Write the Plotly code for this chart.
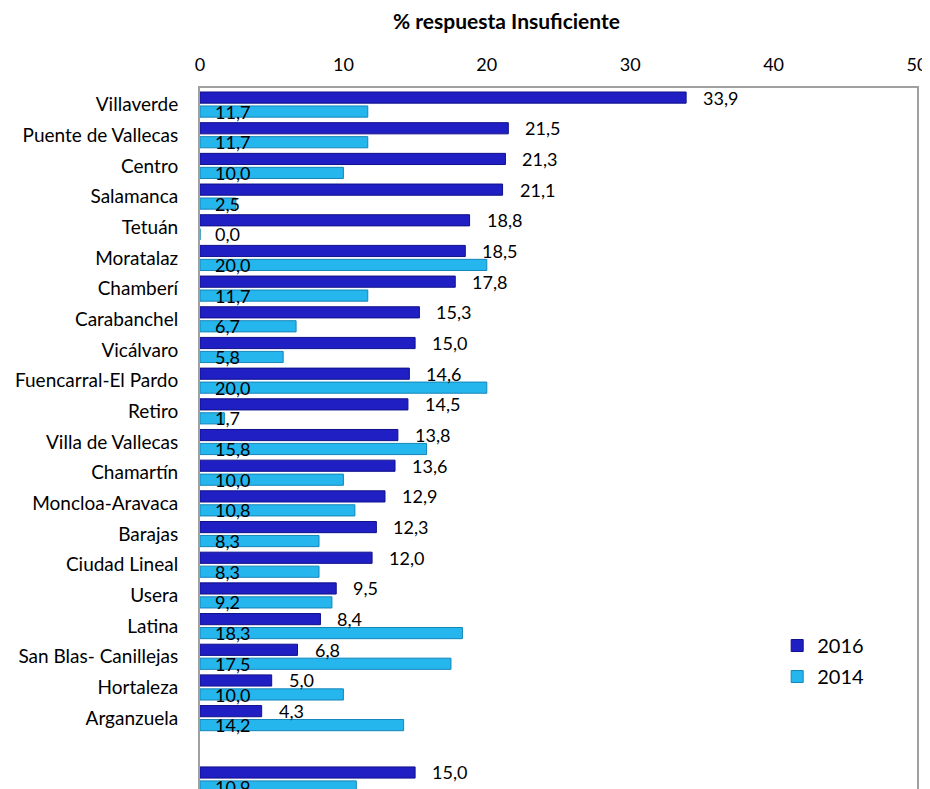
import plotly.graph_objects as go

categories = ["Villaverde", "Puente de Vallecas", "Centro", "Salamanca", "Tetuán",
              "Moratalaz", "Chamberí", "Carabanchel", "Vicálvaro", "Fuencarral-El Pardo",
              "Retiro", "Villa de Vallecas", "Chamartín", "Moncloa-Aravaca", "Barajas",
              "Ciudad Lineal", "Usera", "Latina", "San Blas- Canillejas", "Hortaleza",
              "Arganzuela", "Madrid"]
positions = list(range(21)) + [22]
v2016 = [33.9, 21.5, 21.3, 21.1, 18.8, 18.5, 17.8, 15.3, 15.0, 14.6, 14.5, 13.8,
         13.6, 12.9, 12.3, 12.0, 9.5, 8.4, 6.8, 5.0, 4.3, 15.0]
v2014 = [11.7, 11.7, 10.0, 2.5, 0.0, 20.0, 11.7, 6.7, 5.8, 20.0, 1.7, 15.8,
         10.0, 10.8, 8.3, 8.3, 9.2, 18.3, 17.5, 10.0, 14.2, 10.9]
x_ticks = [0, 10, 20, 30, 40, 50]

FONT = "Lato"

def fmt(v):
    return f"{v:.1f}".replace(".", ",")

fig = go.Figure()
fig.add_trace(go.Bar(y=positions, x=v2016, orientation="h", name="2016", legendgroup="a",
                     marker=dict(color="#1f1fc4", line=dict(color="#10108a", width=1))))
fig.add_trace(go.Bar(y=positions, x=v2014, orientation="h", name="2014", legendgroup="b",
                     marker=dict(color="#26b6ee", line=dict(color="#1485b8", width=1))))

off = 0.23
for p, a, b in zip(positions, v2016, v2014):
    fig.add_annotation(x=a, y=p - off, text=fmt(a), showarrow=False, xanchor="left",
                       xshift=15, font=dict(family=FONT, size=18, color="black"))
    fig.add_annotation(x=0, y=p + off, text=fmt(b), showarrow=False, xanchor="left",
                       xshift=13, font=dict(family=FONT, size=18, color="black"))

fig.add_annotation(x=0.427, y=1, xref="paper", yref="paper", yanchor="bottom", yshift=53,
                   text="<b>% respuesta Insuficiente</b>", showarrow=False,
                   font=dict(family=FONT, size=21, color="black"))

fig.update_layout(
    width=922, height=781,
    margin=dict(l=192, r=13, t=80, b=0),
    paper_bgcolor="white", plot_bgcolor="white",
    barmode="group", bargap=0.09, bargroupgap=0.2,
    font=dict(family=FONT, size=17, color="black"),
    showlegend=True,
    legend=dict(x=0.805, y=0.2325, xanchor="left", yanchor="top",
                bgcolor="rgba(0,0,0,0)", font=dict(family=FONT, size=20),
                itemwidth=30, tracegroupgap=2),
)
fig.update_xaxes(side="top", range=[0, 50], tickvals=x_ticks, showgrid=False,
                 zeroline=False, showline=True, linecolor="#a0a0a0", linewidth=2,
                 mirror=False, ticks="", tickfont=dict(size=18), ticklabelstandoff=8,
                 automargin=False)
fig.update_yaxes(range=[22.31, -0.54], tickvals=positions, ticktext=categories,
                 showgrid=False, zeroline=False, showline=True, linecolor="#a0a0a0",
                 linewidth=2, mirror=True, ticks="", ticklabelstandoff=16,
                 tickfont=dict(size=19), automargin=False)

fig.write_html("out.html")
